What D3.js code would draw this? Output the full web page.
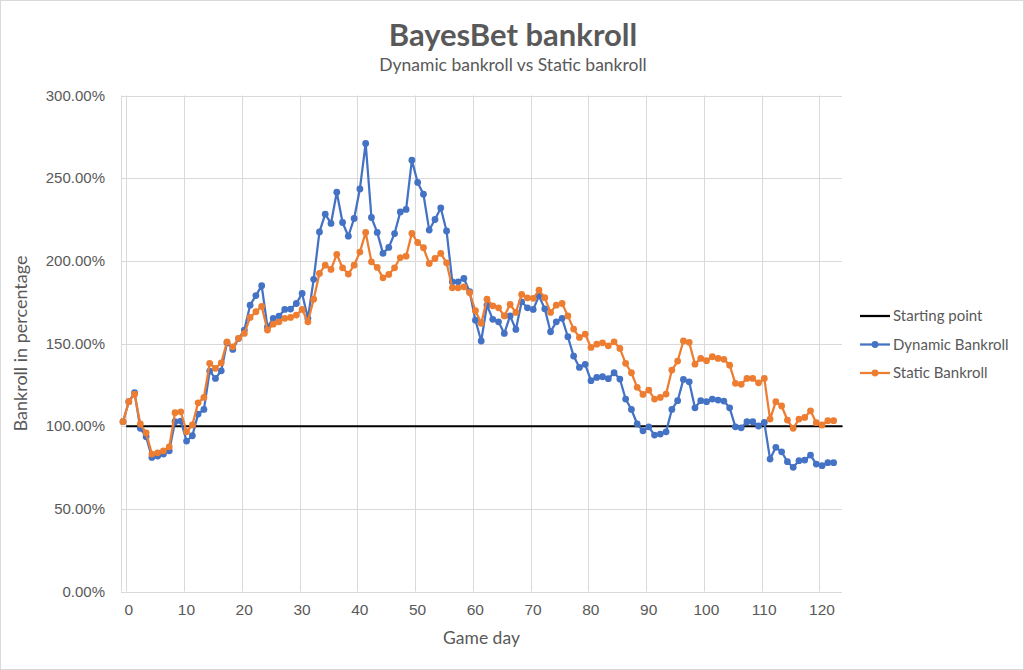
<!DOCTYPE html>
<html>
<head>
<meta charset="utf-8">
<script src="https://cdn.jsdelivr.net/npm/d3@7"></script>
<style>
  body { margin: 0; background: #fff; }
  svg { display: block; font-family: Lato, 'Open Sans', sans-serif; }
  .grid line { stroke: #d9d9d9; stroke-width: 1; }
  .tick text { fill: #595959; }
</style>
</head>
<body>
<div id="chart"></div>
<script>
// game days 0..123, bankroll in percent
const dynamicBankroll = [
  102.7, 114.8, 120.2, 98.7, 93.6, 81.1, 81.9, 83.1, 85.1, 102.7,
  103.1, 91.0, 94.2, 107.3, 110.1, 133.3, 128.9, 133.5, 150.5, 146.4,
  153.0, 158.1, 173.2, 179.0, 185.0, 160.0, 165.2, 166.6, 170.6, 170.8,
  174.2, 180.3, 165.2, 188.8, 217.5, 228.2, 222.6, 241.5, 223.2, 214.9,
  225.6, 243.5, 271.0, 226.2, 217.2, 204.5, 208.1, 216.5, 229.6, 231.1,
  260.9, 247.4, 240.3, 218.6, 225.0, 232.0, 218.1, 187.3, 187.3, 189.3,
  181.3, 164.1, 151.5, 173.2, 164.6, 163.1, 156.1, 166.7, 158.5, 175.2,
  171.6, 170.6, 178.8, 171.0, 157.1, 163.1, 165.2, 154.1, 142.4, 135.5,
  137.4, 127.5, 129.5, 129.9, 128.7, 132.3, 128.5, 116.4, 110.1, 101.3,
  97.2, 99.6, 94.6, 95.2, 96.6, 110.1, 115.4, 128.3, 126.8, 111.1,
  115.4, 114.8, 116.4, 115.8, 115.2, 111.1, 99.6, 99.0, 102.7, 102.7,
  100.1, 102.3, 80.1, 87.2, 84.5, 78.5, 75.1, 79.1, 79.5, 82.5,
  77.1, 76.1, 77.9, 77.9
]
const staticBankroll = [
  102.7, 114.8, 119.3, 101.3, 96.0, 83.1, 83.9, 85.1, 87.5, 108.1,
  108.7, 96.6, 100.7, 114.1, 117.4, 138.0, 135.0, 138.3, 151.0, 148.0,
  153.1, 156.1, 165.8, 169.2, 172.4, 158.1, 161.7, 163.1, 165.2, 165.8,
  167.2, 170.6, 163.1, 176.8, 192.4, 197.4, 194.8, 203.9, 195.8, 192.0,
  197.4, 205.3, 217.2, 199.4, 196.0, 189.7, 191.8, 195.8, 202.0, 202.8,
  216.6, 211.1, 207.9, 198.4, 201.4, 204.5, 198.8, 183.7, 183.7, 184.3,
  180.7, 169.8, 162.2, 176.8, 172.8, 171.6, 166.7, 173.6, 168.8, 179.7,
  177.6, 177.3, 182.3, 177.7, 168.8, 173.2, 174.2, 166.7, 158.7, 153.7,
  155.7, 147.6, 149.6, 150.4, 148.6, 151.0, 147.0, 138.0, 132.3, 123.5,
  119.2, 121.8, 116.4, 117.4, 119.4, 133.9, 139.4, 151.5, 150.7, 137.5,
  141.0, 139.6, 142.0, 141.0, 140.4, 136.9, 125.9, 125.3, 128.9, 128.9,
  126.2, 128.9, 104.3, 114.8, 112.2, 103.7, 98.7, 104.3, 105.3, 109.3,
  102.1, 100.7, 103.3, 103.3
]
const startingDays = [0, 124]
const startingValues = [100, 100]

const xTicks = [0, 10, 20, 30, 40, 50, 60, 70, 80, 90, 100, 110, 120]
const yTicks = [0, 50, 100, 150, 200, 250, 300]

const seriesNames = ['Starting point', 'Dynamic Bankroll', 'Static Bankroll']
const seriesColors = ['#000000', '#4472c4', '#ed7d31']

const width = 1024
const height = 670
const plot = { left: 121, right: 842, top: 95.5, bottom: 591.5 }
// markers sit a little left of the whole-day gridlines in the original
const pointOffset = 0.55

const svg = d3.select('#chart').append('svg')
  .attr('width', width)
  .attr('height', height)

svg.append('rect')
  .attr('x', 0.5).attr('y', 0.5)
  .attr('width', width - 1).attr('height', height - 1)
  .attr('fill', '#fff')
  .attr('stroke', '#d9d9d9')

let x = d3.scaleLinear().domain([-0.9, 123.9]).range([plot.left, plot.right])
let y = d3.scaleLinear().domain([0, 300]).range([plot.bottom, plot.top])

// gridlines
let grid = svg.append('g').attr('class', 'grid')
grid.selectAll('.hgrid')
  .data(yTicks)
  .enter().append('line')
  .attr('x1', plot.left).attr('x2', plot.right)
  .attr('y1', (d) => Math.round(y(d)) + 0.5)
  .attr('y2', (d) => Math.round(y(d)) + 0.5)
grid.selectAll('.vgrid')
  .data(xTicks)
  .enter().append('line')
  .attr('x1', (d) => Math.round(x(d)) + 0.5)
  .attr('x2', (d) => Math.round(x(d)) + 0.5)
  .attr('y1', plot.top).attr('y2', plot.bottom)
grid.append('line')
  .attr('x1', plot.left + 0.5).attr('x2', plot.left + 0.5)
  .attr('y1', plot.top).attr('y2', plot.bottom)

// axes
let yAxis = svg.append('g')
  .attr('transform', 'translate(' + (plot.left - 10) + ',0)')
  .call(d3.axisLeft(y).tickValues(yTicks).tickSize(0).tickPadding(6)
    .tickFormat((d) => d.toFixed(2) + '%'))
yAxis.select('.domain').remove()
yAxis.selectAll('text').style('font-size', '15px')

let xAxis = svg.append('g')
  .attr('transform', 'translate(2,' + (plot.bottom + 12) + ')')
  .call(d3.axisBottom(x).tickValues(xTicks).tickSize(0).tickPadding(0))
xAxis.select('.domain').remove()
xAxis.selectAll('text').style('font-size', '15.5px').attr('dy', '0.71em')

// titles
svg.append('text')
  .attr('x', 513).attr('y', 46)
  .attr('text-anchor', 'middle')
  .attr('fill', '#595959')
  .style('font-size', '31px').style('font-weight', 'bold')
  .text('BayesBet bankroll')

svg.append('text')
  .attr('x', 513).attr('y', 71)
  .attr('text-anchor', 'middle')
  .attr('fill', '#595959')
  .style('font-size', '17.5px')
  .text('Dynamic bankroll vs Static bankroll')

svg.append('text')
  .attr('x', (plot.left + plot.right) / 2).attr('y', 644)
  .attr('text-anchor', 'middle')
  .attr('fill', '#595959')
  .style('font-size', '17.5px')
  .text('Game day')

svg.append('text')
  .attr('transform', 'translate(27,' + (plot.top + plot.bottom) / 2 + ')rotate(-90)')
  .attr('text-anchor', 'middle')
  .attr('fill', '#595959')
  .style('font-size', '18px')
  .text('Bankroll in percentage')

// series
let line = d3.line()
  .x((d) => x(d.day))
  .y((d) => y(d.v))

let startData = startingDays.map((d, i) => ({ day: d, v: startingValues[i] }))
svg.append('path')
  .datum(startData)
  .attr('d', line)
  .attr('fill', 'none')
  .attr('stroke', seriesColors[0])
  .attr('stroke-width', 2)

let seriesData = [dynamicBankroll, staticBankroll].map((arr) =>
  arr.map((v, i) => ({ day: i - pointOffset, v: v })))

seriesData.forEach((data, k) => {
  let color = seriesColors[k + 1]
  let g = svg.append('g')
  g.append('path')
    .datum(data)
    .attr('d', line)
    .attr('fill', 'none')
    .attr('stroke', color)
    .attr('stroke-width', 2.25)
    .attr('stroke-linejoin', 'round')
  g.selectAll('circle')
    .data(data)
    .enter().append('circle')
    .attr('cx', (d) => x(d.day))
    .attr('cy', (d) => y(d.v))
    .attr('r', 3.4)
    .attr('fill', color)
})

// legend
let legend = svg.append('g')
  .attr('transform', 'translate(860,316)')
let items = legend.selectAll('g')
  .data(seriesNames)
  .enter().append('g')
  .attr('transform', (d, i) => 'translate(0,' + i * 28.5 + ')')
items.append('line')
  .attr('x1', 0).attr('x2', 30)
  .attr('stroke', (d, i) => seriesColors[i])
  .attr('stroke-width', 2.25)
items.filter((d, i) => i > 0).append('circle')
  .attr('cx', 15).attr('r', 3.4)
  .attr('fill', (d, i) => seriesColors[i + 1])
items.append('text')
  .attr('x', 33).attr('dy', '0.35em')
  .attr('fill', '#595959')
  .style('font-size', '15px')
  .text((d) => d)
</script>
</body>
</html>
